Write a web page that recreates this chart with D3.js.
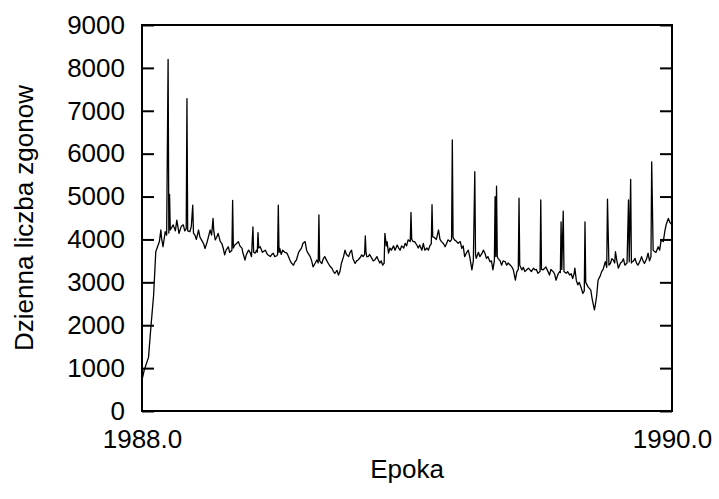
<!DOCTYPE html>
<html>
<head>
<meta charset="utf-8">
<script src="https://cdn.jsdelivr.net/npm/d3@7/dist/d3.min.js"></script>
<style>
  html, body { margin: 0; padding: 0; background: #fff; }
  svg { display: block; }
  text { font-family: "Liberation Sans", Arial, Helvetica, sans-serif; fill: #000; }
</style>
</head>
<body>
<svg id="chart" width="719" height="499"></svg>
<script>
// Day offsets from 1988-01-01 and daily deaths
const days = [0,3,9,12,16,19,24,26,27,29,32,34,36,37,38,39,43,46,48,51,54,57,59,61,62,63,66,68,70,71,73,75,78,80,82,85,87,90,94,96,98,99,101,103,105,108,110,112,114,116,119,121,124,125,126,128,130,133,135,138,139,142,144,147,149,151,153,154,156,158,159,160,161,163,166,170,173,177,179,181,183,186,187,188,189,190,192,194,197,200,202,204,206,209,211,213,216,218,220,222,225,227,229,232,234,236,239,241,243,244,245,248,250,252,255,257,259,262,264,266,269,271,273,275,278,280,282,285,287,289,291,294,296,298,301,303,305,307,308,309,310,312,314,317,319,321,324,326,328,330,332,334,335,337,338,340,342,344,347,349,352,354,356,358,361,363,365,367,370,371,372,374,376,379,381,383,386,388,390,393,395,397,399,400,401,403,406,409,411,413,416,418,420,422,425,427,428,429,431,434,436,439,441,443,445,448,450,452,455,457,459,460,461,464,466,468,471,473,475,477,480,482,484,486,487,488,489,490,491,494,496,498,501,503,505,508,510,512,515,517,519,520,521,524,526,528,531,533,535,537,540,542,544,546,549,550,551,553,555,557,560,562,564,567,569,571,574,576,577,578,579,581,582,585,587,590,592,594,596,597,599,601,603,606,608,610,611,612,615,617,619,621,624,625,627,629,632,634,636,639,641,642,644,646,648,650,652,653,655,657,660,662,664,666,669,671,672,674,675,676,678,680,682,684,687,689,691,693,696,698,700,702,703,705,707,709,712,714,716,719,721,723,726,728,731];
const deaths = [720,950,1250,1900,2700,3715,3950,4220,4030,3830,4180,4100,8200,4150,5050,4220,4340,4200,4450,4140,4300,4340,4200,4250,7280,4200,4180,4300,4800,4150,4100,4000,4220,4050,3990,3900,3790,3950,4220,4100,4490,4200,3990,4050,4140,3950,3910,3800,3640,3750,3830,3700,3750,4910,3800,3870,3900,3950,3850,3790,3700,3520,3650,3750,3700,3600,4290,3700,3680,3750,3700,4160,3800,3830,3700,3750,3650,3600,3650,3680,3600,3620,3650,4800,3700,3790,3650,3750,3700,3680,3600,3520,3450,3400,3480,3520,3700,3750,3800,3910,3950,3750,3680,3600,3500,3360,3450,3520,3450,4570,3500,3440,3550,3600,3500,3440,3380,3330,3250,3210,3280,3170,3250,3440,3600,3750,3650,3600,3700,3750,3550,3440,3500,3520,3580,3640,3600,3650,4080,3700,3600,3600,3650,3560,3500,3520,3600,3520,3450,3500,3400,3450,4140,3850,3950,3680,3800,3750,3850,3750,3870,3800,3750,3850,3800,3910,3850,3990,3950,4630,4000,3950,3950,3870,3800,3870,3750,3910,3750,3800,3750,3850,3900,4810,4060,4050,4000,4220,4000,3950,3900,3830,3900,3990,3950,4000,6320,4050,3990,3950,3910,3950,3790,3850,3600,3700,3750,3600,3290,3500,5580,3650,3560,3700,3600,3650,3750,3680,3560,3600,3480,3500,3290,3500,5000,3600,5240,3600,3560,3500,3400,3500,3480,3400,3450,3400,3360,3300,3050,3250,3300,4960,3400,3290,3350,3250,3300,3330,3290,3250,3330,3290,3300,3210,3250,4920,3300,3290,3320,3360,3250,3170,3300,3250,3200,3050,3200,3250,3230,4410,3300,4660,3250,3210,3250,3170,3200,3090,3200,3330,3050,2940,3000,2860,2740,2800,4410,3000,2900,2860,2820,2600,2360,2450,2670,3050,3150,3250,3300,3480,3350,4940,3400,3440,3550,3520,3450,3715,3500,3330,3450,3480,3550,3400,3450,4920,3480,5400,3450,3480,3500,3560,3450,3400,3500,3600,3500,3440,3550,3680,3500,3600,5810,3750,3715,3700,3830,3750,3990,3950,4180,4350,4490,4400,4340];
const yTicks = [0,1000,2000,3000,4000,5000,6000,7000,8000,9000];
const xTickLabels = ["1988.0","1990.0"];
const xTickValues = [1988.0, 1990.0];
const xTitle = "Epoka";
const yTitle = "Dzienna liczba zgonow";

const svg = d3.select("#chart");
const W = 719, H = 499;
const m = {left: 142, right: 47, top: 25, bottom: 88};
const pw = W - m.left - m.right, ph = H - m.top - m.bottom;
const FS = "26px";

const x = d3.scaleLinear().domain([1988, 1990]).range([m.left, m.left + pw]);
const y = d3.scaleLinear().domain([0, 9000]).range([m.top + ph, m.top]);
const daysTotal = 731;

const data = days.map((d, i) => ({ t: 1988 + 2 * d / daysTotal, v: deaths[i] }));

// data line
svg.append("path")
  .datum(data)
  .attr("fill", "none")
  .attr("stroke", "#000")
  .attr("stroke-width", 1.3)
  .attr("stroke-linejoin", "round")
  .attr("d", d3.line().x(d => x(d.t)).y(d => y(d.v)));

// left axis (ticks inward)
const yAxisL = d3.axisLeft(y).tickValues(yTicks).tickSize(-12).tickPadding(17).tickFormat(d3.format("d"));
const gl = svg.append("g").attr("transform", `translate(${m.left},0)`).call(yAxisL);
gl.select(".domain").remove();
gl.selectAll(".tick line").attr("stroke", "#000").attr("stroke-width", 2);
gl.selectAll(".tick text").style("font-size", FS).attr("fill", "#000");

// right axis (ticks inward, no labels)
const yAxisR = d3.axisRight(y).tickValues(yTicks).tickSize(-12).tickFormat("");
const gr = svg.append("g").attr("transform", `translate(${m.left + pw},0)`).call(yAxisR);
gr.select(".domain").remove();
gr.selectAll(".tick line").attr("stroke", "#000").attr("stroke-width", 2);

// bottom axis labels (no ticks)
const xAxis = d3.axisBottom(x).tickValues(xTickValues).tickSize(0).tickPadding(19)
  .tickFormat((d, i) => xTickLabels[i]);
const gb = svg.append("g").attr("transform", `translate(0,${m.top + ph})`).call(xAxis);
gb.select(".domain").remove();
gb.selectAll(".tick text").style("font-size", FS).attr("fill", "#000");

// frame
svg.append("rect")
  .attr("x", m.left).attr("y", m.top).attr("width", pw).attr("height", ph)
  .attr("fill", "none").attr("stroke", "#000").attr("stroke-width", 2);

// titles
svg.append("text")
  .attr("x", m.left + pw / 2).attr("y", 478)
  .attr("text-anchor", "middle")
  .style("font-size", FS)
  .text(xTitle);

svg.append("text")
  .attr("transform", `translate(33,${m.top + ph / 2}) rotate(-90)`)
  .attr("text-anchor", "middle")
  .style("font-size", FS)
  .text(yTitle);
</script>
</body>
</html>
